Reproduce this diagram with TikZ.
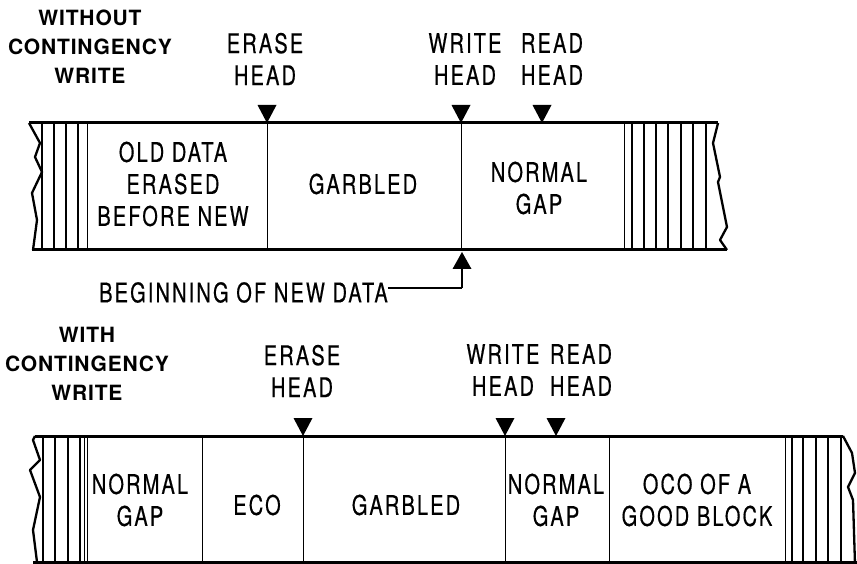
\documentclass[tikz,border=0pt]{standalone}
\usepackage{fontspec}
\newfontfamily\cond[FakeStretch=0.74,LetterSpace=8,FakeBold=0.5]{TeX Gyre Heros}
\newfontfamily\hb[LetterSpace=4]{TeX Gyre Heros}
\begin{document}
\begin{tikzpicture}[x=1pt,y=-1pt,
  lab/.style={font=\cond\fontsize{27}{32}\selectfont, align=center, inner sep=0pt},
  ttl/.style={font=\hb\bfseries\fontsize{21}{29}\selectfont, align=center, inner sep=0pt},
  tapeline/.style={line width=3pt},
  edgeline/.style={line width=2.3pt, line join=round},
  divline/.style={line width=1pt},
  hthick/.style={line width=2.1pt},
  hthin/.style={line width=1pt},
  headmark/.style={fill=black},
  arrowline/.style={line width=2.6pt}
]
\useasboundingbox (0,0) rectangle (857,564);

% ================= TOP TAPE =================
\node[ttl] (t1) at (90,47) {WITHOUT\\CONTINGENCY\\WRITE};
\node[lab] (eh1) at (265,59) {ERASE\\HEAD};
\node[lab] (wh1) at (465,59) {WRITE\\HEAD};
\node[lab] (rh1) at (552,59) {READ\\HEAD};

% tape borders
\draw[tapeline] (29,123) -- (718,123);
\draw[tapeline] (32,250) -- (727,250);
\draw[edgeline] (29,123) -- (40,143) -- (35,157) -- (42,172) -- (32,193) -- (37,220) -- (33,250);
\draw[edgeline] (718,123) -- (713,143) -- (720,177) -- (718,182) -- (723,207) -- (727,227) -- (720,240) -- (727,250);

% left hatch
\foreach \x in {42,54,66,78} \draw[hthick] (\x,123) -- (\x,250);
\draw[hthin] (87,123) -- (87,250);
% right hatch
\draw[hthin] (624,123) -- (624,250);
\foreach \x in {632,644,656,668,681,693,706} \draw[hthick] (\x,123) -- (\x,250);

% dividers
\draw[divline] (267,123) -- (267,250);
\draw[divline] (461,123) -- (461,250);

% head marks
\fill[headmark] (257.5,105) -- (276.5,105) -- (267,123) -- cycle;
\fill[headmark] (451.5,105) -- (470.5,105) -- (461,123) -- cycle;
\fill[headmark] (532.5,105) -- (551.5,105) -- (542,123) -- cycle;

% texts
\node[lab] (old) at (173,184) {OLD DATA\\ERASED\\BEFORE NEW};
\node[lab] (garb1) at (363,184) {GARBLED};
\node[lab] (gap1) at (539,188) {NORMAL\\GAP};

% beginning of new data
\node[lab, anchor=west] (bnd) at (99,292.5) {BEGINNING OF NEW DATA};
\coordinate (wb) at (462,252);
\coordinate (bend) at (462,288);
\draw[line width=1.8pt] (bnd.east |- bend) -- (bend);
\draw[arrowline] (bend) -- (462,266);
\fill (wb) -- (452.5,269) -- (471.5,269) -- cycle;

% ================= BOTTOM TAPE =================
\node[ttl] (t2) at (87,364) {WITH\\CONTINGENCY\\WRITE};
\node[lab] (eh2) at (302,371) {ERASE\\HEAD};
\node[lab] (wh2) at (503,370) {WRITE\\HEAD};
\node[lab] (rh2) at (581,370) {READ\\HEAD};

\draw[tapeline] (35,436) -- (843,436);
\draw[tapeline] (33,562) -- (857,562);
\draw[edgeline] (35,436) -- (33,440) -- (40,460) -- (30,470) -- (40,497) -- (33,530) -- (37,562);
\draw[edgeline] (843,436) -- (852,453) -- (855,473) -- (848,487) -- (853,500) -- (855,564);

% hatch
\foreach \x in {43,55,68,80} \draw[hthick] (\x,436) -- (\x,562);
\draw[hthin] (84,436) -- (84,562);
\draw[hthin] (87,436) -- (87,562);
\draw[hthin] (785,436) -- (785,562);
\foreach \x in {792,803,816,828,841} \draw[hthick] (\x,436) -- (\x,562);

% dividers
\foreach \x in {202,303,505,609} \draw[divline] (\x,436) -- (\x,562);

% head marks
\fill[headmark] (293.5,418) -- (312.5,418) -- (303,436) -- cycle;
\fill[headmark] (495.5,418) -- (514.5,418) -- (505,436) -- cycle;
\fill[headmark] (546.5,418) -- (565.5,418) -- (556,436) -- cycle;

% texts
\node[lab] (gap2) at (140,500) {NORMAL\\GAP};
\node[lab] (eco) at (257,505) {ECO};
\node[lab] (garb2) at (406,505) {GARBLED};
\node[lab] (gap3) at (556,500) {NORMAL\\GAP};
\node[lab] (oco) at (697,500) {OCO OF A\\GOOD BLOCK};
\end{tikzpicture}
\end{document}
